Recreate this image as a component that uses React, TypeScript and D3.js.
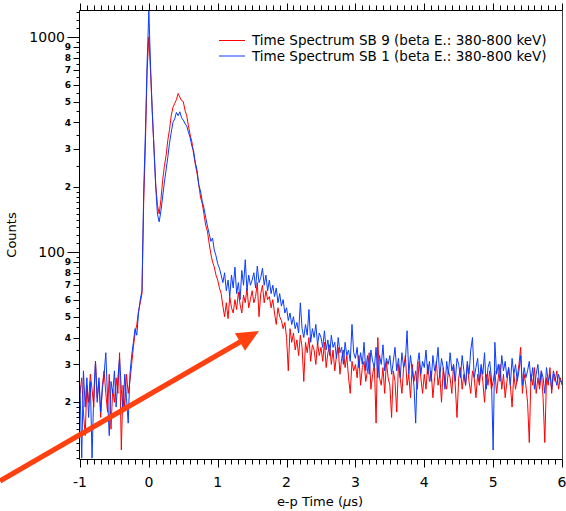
import React from "react";
import * as d3 from "d3";

// histogram bins: first bin at -1 µs, 0.025 µs wide
const binStart = -1;
const binWidth = 0.025;

// Time Spectrum SB 9 (red)
const countsSB9 = [
  22, 26, 18, 14, 24, 20, 27, 23, 19, 31, 21, 25, 17, 24, 28, 22, 18, 27, 15, 23,
  20, 26, 22, 34, 12, 24, 19, 27, 22, 25, 30, 36, 42, 46, 53, 58, 64, 170, 320, 700,
  1000, 680, 440, 300, 205, 165, 150, 175, 215, 250, 280, 330, 370, 430, 470, 490, 510, 545, 525, 505,
  500, 455, 430, 385, 350, 325, 285, 255, 232, 205, 180, 168, 150, 133, 125, 110, 98, 90, 85, 78,
  74, 68, 64, 56, 50, 58, 49, 62, 55, 52, 60, 54, 65, 57, 52, 63, 58, 68, 55, 60,
  66, 58, 62, 72, 50, 64, 70, 58, 66, 60, 62, 55, 60, 52, 46, 55, 50, 48, 44, 47,
  40, 28, 44, 38, 42, 35, 39, 33, 41, 36, 25, 38, 34, 40, 31, 37, 35, 30, 38, 33,
  36, 31, 38, 29, 34, 37, 30, 35, 28, 33, 36, 27, 32, 35, 29, 33, 26, 22, 31, 28,
  30, 26, 33, 24, 29, 31, 25, 28, 34, 23, 27, 30, 16, 40, 26, 24, 29, 22, 31, 26,
  24, 17, 28, 25, 18, 30, 26, 22, 29, 33, 24, 27, 21, 30, 25, 28, 23, 31, 26, 22,
  27, 23, 30, 25, 28, 21, 26, 31, 24, 27, 20, 29, 25, 23, 28, 26, 22, 30, 24, 17,
  26, 29, 23, 27, 24, 30, 25, 22, 28, 26, 21, 27, 24, 29, 25, 20, 27, 24, 28, 23,
  25, 28, 22, 26, 30, 23, 27, 21, 25, 29, 24, 19, 27, 23, 26, 30, 36, 22, 27, 24,
  20, 13, 27, 24, 29, 22, 26, 23, 28, 21, 13, 26, 24, 29, 22, 27, 25, 28, 23, 26,
  24,
];

// Time Spectrum SB 1 (blue)
const countsSB1 = [
  24, 11, 28, 19, 26, 17, 25, 11, 22, 31, 20, 26, 18, 23, 27, 34, 21, 14, 25, 22,
  28, 19, 26, 32, 23, 18, 27, 21, 16, 27, 33, 38, 44, 41, 52, 60, 66, 190, 360, 760,
  1320, 720, 450, 300, 200, 150, 138, 155, 180, 210, 240, 275, 320, 360, 400, 415, 445, 430, 448, 420,
  410, 395, 385, 360, 340, 310, 295, 260, 240, 205, 192, 172, 160, 145, 132, 122, 112, 116, 102, 96,
  88, 84, 78, 72, 80, 66, 74, 62, 78, 68, 85, 64, 72, 60, 82, 70, 92, 66, 78, 70,
  74, 80, 68, 86, 72, 76, 84, 70, 78, 66, 74, 64, 70, 62, 68, 58, 64, 56, 60, 52,
  55, 48, 52, 46, 50, 44, 47, 42, 58, 44, 40, 46, 41, 54, 38, 44, 40, 46, 37, 42,
  40, 36, 43, 35, 39, 33, 41, 36, 38, 32, 40, 34, 36, 30, 38, 33, 35, 31, 46, 34,
  32, 36, 29, 34, 30, 38, 28, 33, 27, 35, 31, 29, 36, 26, 33, 30, 37, 28, 32, 30,
  33, 27, 31, 36, 28, 32, 26, 34, 29, 31, 43, 27, 33, 28, 24, 16, 30, 34, 27, 31,
  29, 35, 27, 31, 25, 33, 28, 30, 36, 26, 32, 29, 23, 31, 27, 34, 28, 30, 25, 32,
  30, 26, 33, 28, 24, 31, 27, 35, 40, 26, 29, 32, 25, 30, 27, 34, 23, 29, 31, 26,
  12, 38, 27, 30, 25, 33, 28, 31, 26, 29, 24, 32, 27, 30, 25, 28, 33, 24, 29, 26,
  28, 31, 25, 29, 23, 27, 30, 24, 28, 26, 22, 29, 25, 27, 23, 28, 26, 24, 27, 25,
  25,
];

const seriesNames = [
  "Time Spectrum SB 9 (beta E.: 380-800 keV)",
  "Time Spectrum SB 1 (beta E.: 380-800 keV)",
];
const seriesColors = ["#ff0000", "#0a3cff"];

const xTickValues = [-1, 0, 1, 2, 3, 4, 5, 6];
const yMajorTicks = [100, 1000];
const yDecades = [10, 100, 1000];

const W = 566;
const H = 511;
const left = 79.5;
const right = 562.5;
const top = 10.5;
const bottom = 459.5;
const FONT = "'DejaVu Sans', Verdana, sans-serif";

const x = d3.scaleLinear().domain([-1, 6]).range([80, 562]);
const y = d3.scaleLog().domain([10.9, 1325]).range([459, 10.5]);

export default function App() {
  const line = d3
    .line<number>()
    .x((_, i) => x(binStart + i * binWidth))
    .y((d) => y(d));

  // minor ticks on x: every 0.1
  const xMinor = d3.range(-10, 61).map((k) => k / 10);

  // log ticks on y
  const yTicks: { v: number; len: number; label?: string }[] = [];
  yDecades.forEach((dec) => {
    for (let m = 1; m < 10; m++) {
      const v = m * dec;
      if (m === 1) {
        if (dec !== 10) yTicks.push({ v, len: 12 });
      } else if (dec < 1000) {
        yTicks.push({ v, len: 6, label: String(m) });
      }
    }
    if (dec === 1000) {
      [1100, 1200, 1300].forEach((v) => yTicks.push({ v, len: 3 }));
    } else {
      d3.range(11, 20).forEach((m) => yTicks.push({ v: (m * dec) / 10, len: 3 }));
      d3.range(2, 10).forEach((m) => yTicks.push({ v: (m + 0.5) * dec, len: 3 }));
    }
  });
  const yVisible = yTicks.filter((t) => t.v >= 10.9 && t.v <= 1325);

  const arrowFrom = [0, 481];
  const arrowTip = [259, 331];
  const dx = arrowTip[0] - arrowFrom[0];
  const dy = arrowTip[1] - arrowFrom[1];
  const L = Math.hypot(dx, dy);
  const ux = dx / L;
  const uy = dy / L;
  const headLen = 22;
  const headHalf = 10;
  const bx = arrowTip[0] - ux * headLen;
  const by = arrowTip[1] - uy * headLen;

  return (
    <svg
      width={W}
      height={H}
      style={{ position: "absolute", left: 0, top: 0, background: "#fff" }}
      fontFamily={FONT}
    >
      <defs>
        <clipPath id="plot">
          <rect x={left} y={top} width={right - left} height={bottom - top} />
        </clipPath>
      </defs>

      <g clipPath="url(#plot)" fill="none" strokeWidth={1} strokeLinejoin="miter">
        <path d={line(countsSB9) || ""} stroke={seriesColors[0]} />
        <path d={line(countsSB1) || ""} stroke={seriesColors[1]} />
      </g>

      {/* frame */}
      <g stroke="#000" strokeWidth={1} fill="none">
        <line x1={left} x2={right} y1={top} y2={top} />
        <line x1={left} x2={right} y1={bottom} y2={bottom} />
        <line x1={left} x2={left} y1={top} y2={bottom} />
        <line x1={right} x2={right} y1={top} y2={bottom} stroke="#444" />
      </g>

      {/* x ticks, bottom and top */}
      <g stroke="#000" strokeWidth={1}>
        {xMinor.map((t) => {
          const major = Math.abs(t - Math.round(t)) < 1e-6;
          const px = Math.round(x(t)) + 0.5;
          return (
            <g key={t}>
              <line x1={px} x2={px} y1={bottom} y2={bottom + (major ? 8 : 5)} />
              <line x1={px} x2={px} y1={top} y2={top - (major ? 7 : 5)} />
            </g>
          );
        })}
      </g>
      <g fontSize={14} textAnchor="middle" fill="#000">
        {xTickValues.map((t) => (
          <text key={t} x={x(t)} y={487}>
            {String(t)}
          </text>
        ))}
      </g>
      <text x={320} y={506} fontSize={13} textAnchor="middle">
        e-p Time (<tspan fontStyle="italic">µ</tspan>s)
      </text>

      {/* y ticks */}
      <g stroke="#000" strokeWidth={1}>
        {yVisible.map((t) => {
          const py = Math.round(y(t.v)) + 0.5;
          return <line key={t.v} x1={left - t.len} x2={left} y1={py} y2={py} />;
        })}
      </g>
      <g fill="#000">
        {yVisible
          .filter((t) => t.label)
          .map((t) => (
            <text
              key={t.v}
              x={71}
              y={y(t.v) + 3.2}
              fontSize={9}
              fontWeight="bold"
              textAnchor="end"
            >
              {t.label}
            </text>
          ))}
        {yMajorTicks.map((v) => (
          <text key={v} x={65} y={y(v) + 5} fontSize={14} textAnchor="end">
            {String(v)}
          </text>
        ))}
      </g>
      <text
        transform="translate(16,235) rotate(-90)"
        fontSize={13}
        textAnchor="middle"
      >
        Counts
      </text>

      {/* legend */}
      {seriesNames.map((name, i) => (
        <g key={name} transform={`translate(0,${40.5 + i * 15.5})`}>
          <line x1={219} x2={245} y1={0} y2={0} stroke={seriesColors[i]} strokeWidth={1} />
          <text x={252} y={4.8} fontSize={13.5} fill="#000">
            {name}
          </text>
        </g>
      ))}

      {/* annotation arrow */}
      <line
        x1={arrowFrom[0]}
        y1={arrowFrom[1]}
        x2={bx + ux * 2}
        y2={by + uy * 2}
        stroke="#ff4010"
        strokeWidth={5}
      />
      <polygon
        points={`${arrowTip[0]},${arrowTip[1]} ${bx - uy * headHalf},${by + ux * headHalf} ${bx + uy * headHalf},${by - ux * headHalf}`}
        fill="#ff4010"
      />
    </svg>
  );
}
